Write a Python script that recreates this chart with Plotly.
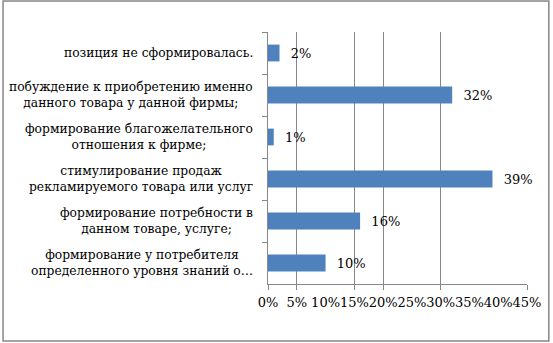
import plotly.graph_objects as go

# Survey answers, listed top to bottom
categories = [
    "позиция не сформировалась.",
    "побуждение к приобретению именно<br>данного товара у данной фирмы;",
    "формирование благожелательного<br>отношения к фирме;",
    "стимулирование продаж<br>рекламируемого товара или услуг",
    "формирование потребности в<br>данном товаре, услуге;",
    "формирование у потребителя<br>определенного уровня знаний о…",
]
shares = [2, 32, 1, 39, 16, 10]

tick_values = [0, 5, 10, 15, 20, 25, 30, 35, 40, 45]
tick_labels = ["0%", "5%", "10%", "15%", "20%", "25%", "30%", "35%", "40%", "45%"]
grid_values = [0, 5, 15, 20, 30, 45]

W, H = 553, 343
L, R, T, B = 268, 24, 32, 59
pw, ph = W - L - R, H - T - B

FONT = "DejaVu Serif"
GRID = "#878787"
BAR = "#4F81BD"

fig = go.Figure()
fig.add_trace(go.Bar(
    x=shares, y=categories, orientation="h",
    marker=dict(color=BAR, line=dict(width=0)),
    text=[f"{v}%" for v in shares],
    texttemplate="  %{text}",
    textposition="outside",
    textfont=dict(family=FONT, size=13, color="#000000"),
    cliponaxis=False,
    hoverinfo="skip",
))
# companion axis carrying the gridlines and tick marks
fig.add_trace(go.Scatter(x=[0, 45], y=[categories[0], categories[0]],
                         xaxis="x2", mode="markers",
                         marker=dict(opacity=0), hoverinfo="skip", showlegend=False))

# category labels, centred line by line
label_x = (255 - L) / pw
for c in categories:
    fig.add_annotation(x=label_x, xref="paper", y=c, yref="y",
                       text=c, showarrow=False, xanchor="right", align="center",
                       font=dict(family=FONT, size=12.3, color="#000000"))

# outer frame
fig.add_shape(type="rect", xref="paper", yref="paper",
              x0=(1 - L) / pw, x1=(551 - L) / pw,
              y0=(H - B - 341) / ph, y1=(H - B - 1) / ph,
              line=dict(color=GRID, width=1.5), layer="below")

fig.update_layout(
    width=W, height=H,
    margin=dict(l=L, r=R, t=T, b=B),
    paper_bgcolor="white", plot_bgcolor="white",
    showlegend=False, bargap=0.6,
    xaxis=dict(range=[0, 45], tickvals=tick_values, ticktext=tick_labels,
               tickangle=0,
               showgrid=False, zeroline=False, ticks="",
               showline=True, linecolor=GRID, linewidth=1,
               ticklabelstandoff=6,
               tickfont=dict(family=FONT, size=13, color="#000000")),
    xaxis2=dict(overlaying="x", matches="x", side="bottom", range=[0, 45],
                tickvals=grid_values, ticktext=[""] * len(grid_values),
                showgrid=True, gridcolor=GRID, gridwidth=1, zeroline=False,
                ticks="outside", ticklen=5, tickcolor=GRID, showline=False),
    yaxis=dict(autorange="reversed", showticklabels=False, showgrid=False,
               zeroline=False, showline=True, linecolor=GRID, linewidth=1,
               ticks="outside", ticklen=5, tickcolor=GRID, tickson="boundaries"),
)

fig.write_html("out.html")
